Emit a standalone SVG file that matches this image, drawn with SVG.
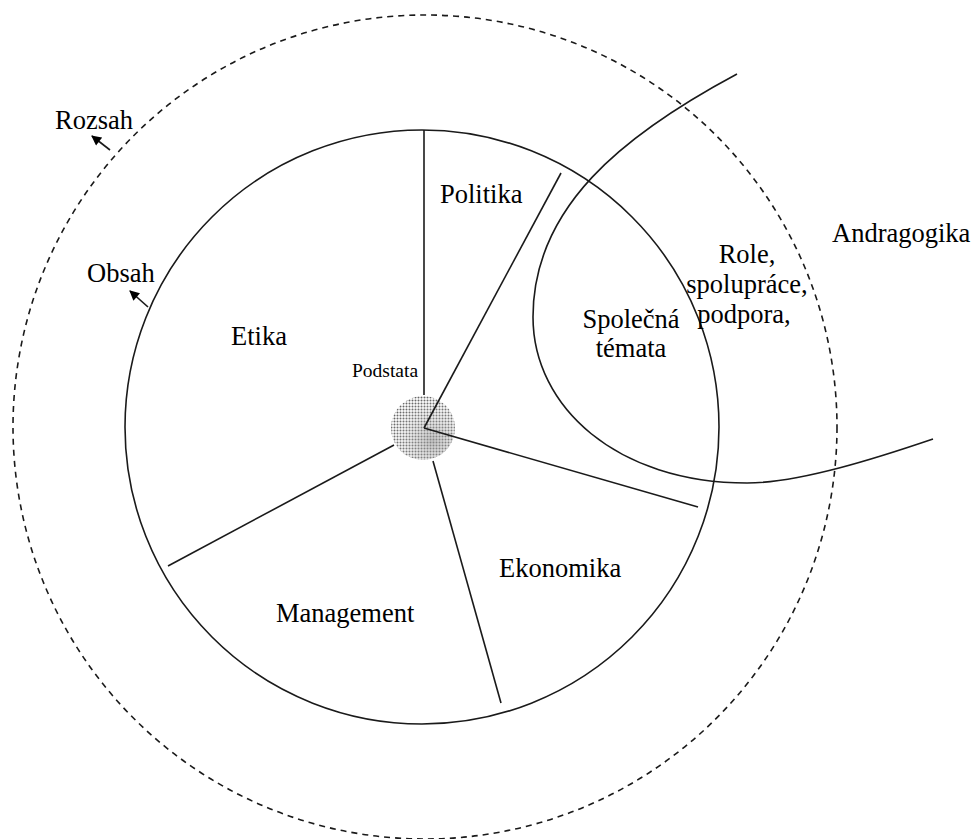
<svg xmlns="http://www.w3.org/2000/svg" width="973" height="839" viewBox="0 0 973 839">
  <style>
    .line { fill: none; stroke: #1a1a1a; stroke-width: 1.6; }
    .dash { fill: none; stroke: #1a1a1a; stroke-width: 1.6; stroke-dasharray: 6 5; }
    .lbl { font-family: "Liberation Serif", "Times New Roman", serif; font-size: 26.5px; fill: #000; }
    .small { font-size: 19.5px; }
  </style>
  <defs>
    <pattern id="dots" width="3" height="3" patternUnits="userSpaceOnUse">
      <rect width="3" height="3" fill="#ffffff"/>
      <circle cx="1.5" cy="1.5" r="1" fill="#666"/>
    </pattern>
    <radialGradient id="shade" cx="0.65" cy="0.7" r="0.7">
      <stop offset="0" stop-color="#9a9a9a"/>
      <stop offset="1" stop-color="#dcdcdc" stop-opacity="0"/>
    </radialGradient>
    <marker id="arrow" viewBox="0 0 10 10" refX="9" refY="5" markerWidth="11" markerHeight="10" orient="auto" markerUnits="userSpaceOnUse">
      <path d="M0,0 L10,5 L0,10 z" fill="#000"/>
    </marker>
  </defs>

  <!-- outer scope (dashed) -->
  <g id="scope">
    <circle class="dash" cx="425" cy="427" r="412"/>
  </g>

  <!-- content circle -->
  <g id="content">
    <circle class="line" cx="422" cy="427" r="297"/>
  </g>

  <!-- andragogy boundary -->
  <g id="andragogy-boundary">
    <path class="line" d="M737,74 C623,135 533,207 533,317 C533,407 617,483 747,483 C800,483 880,457 933,439"/>
  </g>

  <!-- core -->
  <g id="core">
    <circle cx="423" cy="428" r="32" fill="url(#dots)"/>
    <circle cx="423" cy="428" r="32" fill="url(#shade)" opacity="0.6"/>
  </g>

  <!-- sector dividers and pointers -->
  <g id="connectors">
    <line class="line" x1="424" y1="130" x2="424" y2="395"/>
    <line class="line" x1="424" y1="428" x2="561" y2="173"/>
    <line class="line" x1="424" y1="428" x2="698" y2="507"/>
    <line class="line" x1="433" y1="461" x2="501" y2="703"/>
    <line class="line" x1="394" y1="445" x2="168" y2="566"/>
    <line class="line" x1="110" y1="150" x2="92" y2="136" marker-end="url(#arrow)"/>
    <line class="line" x1="148" y1="307" x2="130" y2="291" marker-end="url(#arrow)"/>
  </g>

  <g id="label-rozsah"><text class="lbl" x="55" y="129">Rozsah</text></g>
  <g id="label-obsah"><text class="lbl" x="87" y="282">Obsah</text></g>
  <g id="label-politika"><text class="lbl" x="440" y="203">Politika</text></g>
  <g id="label-etika"><text class="lbl" x="231" y="345">Etika</text></g>
  <g id="label-podstata"><text class="lbl small" x="352" y="377">Podstata</text></g>
  <g id="label-spolecna">
    <text class="lbl" x="631" y="328" text-anchor="middle">Společná</text>
    <text class="lbl" x="631" y="357" text-anchor="middle">témata</text>
  </g>
  <g id="label-role">
    <text class="lbl" x="747" y="263" text-anchor="middle">Role,</text>
    <text class="lbl" x="747" y="293" text-anchor="middle">spolupráce,</text>
    <text class="lbl" x="744" y="323" text-anchor="middle">podpora,</text>
  </g>
  <g id="label-andragogika"><text class="lbl" x="832" y="242">Andragogika</text></g>
  <g id="label-ekonomika"><text class="lbl" x="499" y="577">Ekonomika</text></g>
  <g id="label-management"><text class="lbl" x="276" y="622">Management</text></g>
</svg>
